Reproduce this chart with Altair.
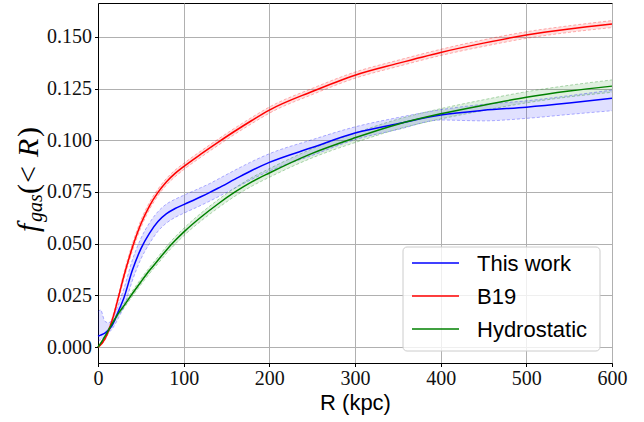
import altair as alt
import pandas as pd

# ---------------- data ----------------
series_names = ["This work", "B19", "Hydrostatic"]
series_colors = ["#0000ff", "#ff0000", "#008000"]

# This work (blue) with its asymmetric band
r_blue = [0, 3, 8, 12, 15, 20, 25, 30, 40, 50, 60, 70, 80, 90, 100, 120, 130, 140,
          160, 180, 200, 250, 300, 350, 400, 450, 500, 550, 600]
blue = [0.0053, 0.0058, 0.0068, 0.0082, 0.0095, 0.0135, 0.0185, 0.0235, 0.0370, 0.0475,
        0.0550, 0.0607, 0.0645, 0.0670, 0.0689, 0.0727, 0.0747, 0.0768, 0.0812, 0.0855,
        0.0893, 0.0965, 0.1035, 0.1080, 0.1122, 0.1145, 0.1160, 0.1180, 0.1203]
blue_lo = [0.0030, 0.0035, 0.0050, 0.0068, 0.0080, 0.0110, 0.0150, 0.0190, 0.0320, 0.0425,
           0.0500, 0.0560, 0.0600, 0.0627, 0.0647, 0.0685, 0.0705, 0.0726, 0.0769, 0.0812,
           0.0851, 0.0927, 0.1003, 0.1052, 0.1098, 0.1094, 0.1106, 0.1125, 0.1143]
blue_hi = [0.0170, 0.0180, 0.0125, 0.0118, 0.0125, 0.0165, 0.0220, 0.0280, 0.0420, 0.0525,
           0.0600, 0.0655, 0.0692, 0.0715, 0.0734, 0.0771, 0.0790, 0.0812, 0.0856, 0.0898,
           0.0935, 0.1003, 0.1065, 0.1110, 0.1148, 0.1174, 0.1191, 0.1216, 0.1243]

# B19 (red) and Hydrostatic (green) on a common radius grid
r_grid = [0, 5, 10, 15, 20, 25, 30, 40, 50, 60, 70, 80, 90, 100, 120, 140, 160, 180,
          200, 250, 300, 350, 400, 450, 500, 550, 600]
b19 = [0.0000, 0.0020, 0.0055, 0.0110, 0.0180, 0.0260, 0.0340, 0.0480, 0.0595, 0.0682,
       0.0748, 0.0800, 0.0840, 0.0873, 0.0933, 0.0990, 0.1045, 0.1097, 0.1146, 0.1236,
       0.1315, 0.1372, 0.1425, 0.1470, 0.1509, 0.1538, 0.1562]
b19_err = [0.0003, 0.0005, 0.0008, 0.0010, 0.0012, 0.0014, 0.0016, 0.0018, 0.0018, 0.0017,
           0.0016, 0.0016, 0.0016, 0.0015, 0.0015, 0.0015, 0.0015, 0.0015, 0.0015, 0.0015,
           0.0015, 0.0015, 0.0015, 0.0016, 0.0016, 0.0016, 0.0017]
hydro = [0.0000, 0.0030, 0.0065, 0.0102, 0.0138, 0.0170, 0.0198, 0.0258, 0.0315, 0.0370,
         0.0420, 0.0470, 0.0515, 0.0556, 0.0628, 0.0692, 0.0750, 0.0800, 0.0842, 0.0937,
         0.1012, 0.1078, 0.1128, 0.1170, 0.1208, 0.1238, 0.1262]
hydro_err = [0.0002, 0.0004, 0.0006, 0.0008, 0.0009, 0.0010, 0.0011, 0.0013, 0.0014, 0.0015,
             0.0016, 0.0017, 0.0018, 0.0018, 0.0019, 0.0020, 0.0020, 0.0021, 0.0021, 0.0022,
             0.0023, 0.0024, 0.0025, 0.0026, 0.0027, 0.0028, 0.0030]

x_ticks = [0, 100, 200, 300, 400, 500, 600]
y_ticks = [0.0, 0.025, 0.05, 0.075, 0.1, 0.125, 0.15]

SERIF = "Liberation Serif, DejaVu Serif, serif"
SANS = "Liberation Sans, Arial, sans-serif"

# ---------------- table ----------------
rows = []
for r, v, lo, hi in zip(r_blue, blue, blue_lo, blue_hi):
    rows.append(dict(R=r, f=v, lo=lo, hi=hi, series="This work", order=0))
for r, v, e in zip(r_grid, b19, b19_err):
    rows.append(dict(R=r, f=v, lo=v - e, hi=v + e, series="B19", order=1))
for r, v, e in zip(r_grid, hydro, hydro_err):
    rows.append(dict(R=r, f=v, lo=v - e, hi=v + e, series="Hydrostatic", order=2))
df = pd.DataFrame(rows)

xs = alt.Scale(domain=[0, 600], nice=False, zero=False)
ys = alt.Scale(domain=[-0.0077, 0.1664], nice=False, zero=False)

axis_style = dict(
    labelFont=SERIF, labelFontSize=20, labelFontWeight="normal", labelColor="#111111",
    tickColor="black", tickSize=3.5, tickWidth=1,
    domainColor="black", domainWidth=1, grid=True, gridColor="#b0b0b0", gridWidth=1,
    labelFlush=False,
)
xaxis = alt.Axis(values=x_ticks, title="R (kpc)", format="d", labelPadding=2,
                 titleFont=SANS, titleFontSize=22, titleFontWeight="normal",
                 titleColor="black", titleY=46, titleBaseline="alphabetic", **axis_style)
yaxis = alt.Axis(values=y_ticks, title=None, format=".3f", labelPadding=3, **axis_style)


def X():
    return alt.X("R:Q", scale=xs, axis=xaxis)


def cs():
    return alt.Scale(domain=series_names, range=series_colors)


base = alt.Chart(df)

band = base.mark_area(opacity=0.12, interpolate="monotone").encode(
    x=X(),
    y=alt.Y("lo:Q", scale=ys, axis=yaxis),
    y2="hi:Q",
    fill=alt.Fill("series:N", scale=cs(), legend=None),
    detail="series:N",
)

edge_lo = base.mark_line(strokeDash=[3, 2], strokeWidth=1, opacity=0.3, interpolate="monotone").encode(
    x=X(),
    y=alt.Y("lo:Q", scale=ys, axis=yaxis),
    stroke=alt.Stroke("series:N", scale=cs(), legend=None),
    detail="series:N",
)
edge_hi = base.mark_line(strokeDash=[3, 2], strokeWidth=1, opacity=0.3, interpolate="monotone").encode(
    x=X(),
    y=alt.Y("hi:Q", scale=ys, axis=yaxis),
    stroke=alt.Stroke("series:N", scale=cs(), legend=None),
    detail="series:N",
)

lines = base.mark_line(strokeWidth=1.5, interpolate="monotone").encode(
    x=X(),
    y=alt.Y("f:Q", scale=ys, axis=yaxis),
    color=alt.Color("series:N", scale=cs(), legend=None),
    order="order:Q",
)

tdf = pd.DataFrame({"k": [0]})

# ---------------- legend (decoration, in plot-area pixel coords) ----------------
leg_x0, leg_y0, leg_x1, leg_y1 = 305, 244, 502, 348
legend_layers = [
    alt.Chart(tdf).mark_rect(
        fill="white", fillOpacity=0.8, stroke="#cccccc", strokeWidth=1, cornerRadius=4
    ).encode(x=alt.value(leg_x0), x2=alt.value(leg_x1), y=alt.value(leg_y0), y2=alt.value(leg_y1))
]
for i, (name, col) in enumerate(zip(series_names, series_colors)):
    yy = 260 + 33 * i
    legend_layers.append(
        alt.Chart(tdf).mark_rule(color=col, strokeWidth=1.5).encode(
            x=alt.value(314), x2=alt.value(361), y=alt.value(yy)
        )
    )
    legend_layers.append(
        alt.Chart(tdf).mark_text(
            text=name, align="left", baseline="middle", font=SANS, fontSize=22, color="black"
        ).encode(x=alt.value(379), y=alt.value(yy + 1))
    )

# ---------------- y-axis title  f_gas(< R)  built from pieces (rotated) ----------------
title_pieces = [
    ("f", "italic", 30, -60, 232),
    ("gas", "italic", 20, -56, 222),
    ("(", "normal", 30, -60, 194),
    ("<", "normal", 30, -60, 183),
    ("R", "italic", 30, -60, 157),
    (")", "normal", 30, -60, 137),
]
title_layers = []
for txt, style, size, xv, yv in title_pieces:
    title_layers.append(
        alt.Chart(tdf).mark_text(
            text=txt, angle=270, align="left", baseline="alphabetic",
            font=SERIF, fontStyle=style, fontSize=size, color="black",
        ).encode(x=alt.value(xv), y=alt.value(yv - 3))
    )

chart = alt.layer(band, edge_lo, edge_hi, lines, *legend_layers, *title_layers).properties(
    width=514,
    height=360,
    autosize=alt.AutoSizeParams(type="none"),
    padding={"left": 98, "top": 3, "right": 32, "bottom": 59},
).configure_view(
    stroke="black", strokeWidth=1
)

chart.save("out.html", embed_options={"renderer": "svg", "actions": False})
